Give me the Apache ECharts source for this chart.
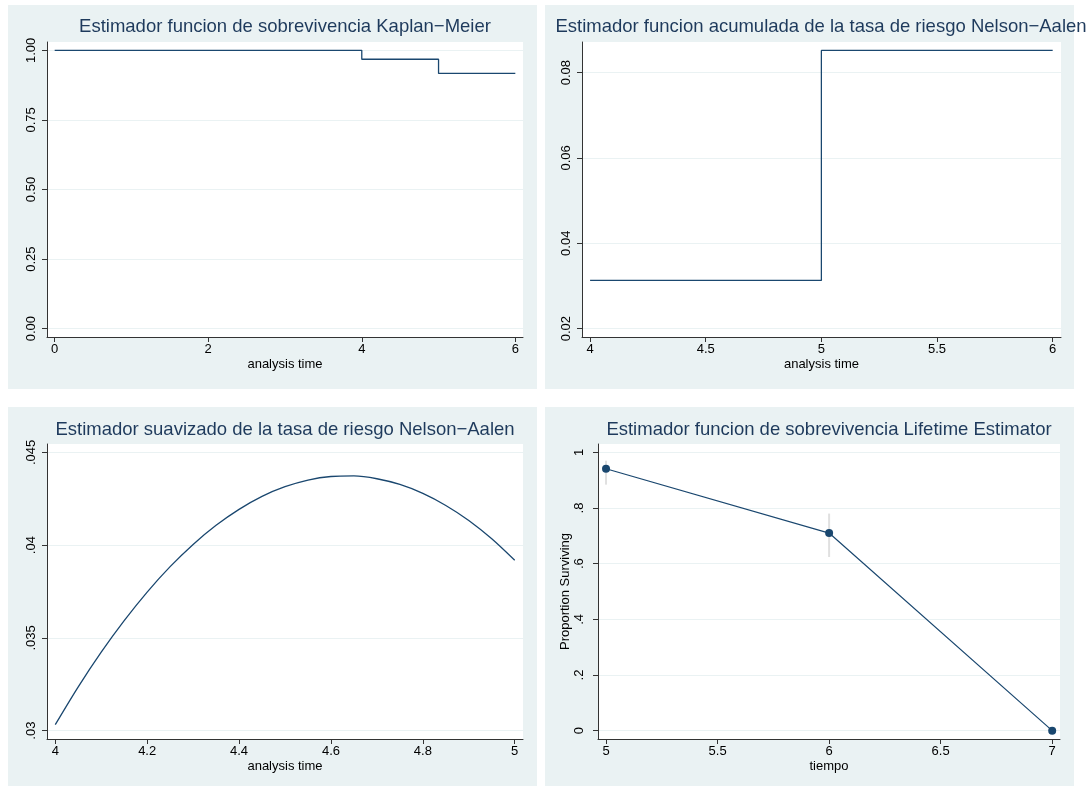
<!DOCTYPE html>
<html>
<head>
<meta charset="utf-8">
<script src="https://cdn.jsdelivr.net/npm/echarts@6/dist/echarts.min.js"></script>
<style>
html,body{margin:0;padding:0;background:#fff;}
#chart{width:1092px;height:787px;}
</style>
</head>
<body>
<div id="chart"></div>
<script>
// ---------- DATA ----------
// Panel 1: Kaplan-Meier survival
const kmTime = [0, 4, 5, 6];
const kmSurv = [1.0, 0.968, 0.917, 0.917];
const kmXTicks = [0, 2, 4, 6];
const kmYTicks = [0, 0.25, 0.5, 0.75, 1];
const kmYLabels = ['0.00', '0.25', '0.50', '0.75', '1.00'];

// Panel 2: Nelson-Aalen cumulative hazard
const naTime = [4, 5, 6];
const naCumHaz = [0.0313, 0.0852, 0.0852];
const naXTicks = [4, 4.5, 5, 5.5, 6];
const naYTicks = [0.02, 0.04, 0.06, 0.08];
const naYLabels = ['0.02', '0.04', '0.06', '0.08'];

// Panel 3: smoothed hazard
const smTime = [4.00, 4.05, 4.10, 4.15, 4.20, 4.25, 4.30, 4.35, 4.40, 4.45, 4.50,
                4.55, 4.60, 4.65, 4.70, 4.75, 4.80, 4.85, 4.90, 4.95, 5.00];
const smHaz  = [0.03032, 0.03236, 0.03423, 0.03593, 0.03747, 0.03884, 0.04004, 0.04107,
                0.04193, 0.04263, 0.04315, 0.04351, 0.04370, 0.04373, 0.04358, 0.04327,
                0.04279, 0.04214, 0.04133, 0.04034, 0.03918];
const smXTicks = [4, 4.2, 4.4, 4.6, 4.8, 5];
const smYTicks = [0.03, 0.035, 0.04, 0.045];
const smYLabels = ['.03', '.035', '.04', '.045'];

// Panel 4: life table survival
const ltTime  = [5, 6, 7];
const ltSurv  = [0.941, 0.710, 0.0];
const ltLower = [0.884, 0.624, 0.0];
const ltUpper = [0.970, 0.780, 0.0];
const ltXTicks = [5, 5.5, 6, 6.5, 7];
const ltYTicks = [0, 0.2, 0.4, 0.6, 0.8, 1];
const ltYLabels = ['0', '.2', '.4', '.6', '.8', '1'];

const titles = [
  'Estimador funcion de sobrevivencia Kaplan\u2212Meier',
  'Estimador funcion acumulada de la tasa de riesgo Nelson\u2212Aalen',
  'Estimador suavizado de la tasa de riesgo Nelson\u2212Aalen',
  'Estimador funcion de sobrevivencia Lifetime Estimator'
];

// ---------- STYLE ----------
const FONT = '"Liberation Sans", Arial, Helvetica, sans-serif';
const BG = '#eaf2f3';
const NAVY = '#1a476f';
const TITLE_COLOR = '#1e3a5c';
const AXIS_COLOR = '#333333';

const grids = [
  {left: 47,  top: 42,  width: 476, height: 295},
  {left: 582, top: 42,  width: 479, height: 295},
  {left: 47,  top: 444, width: 476, height: 295},
  {left: 598, top: 444, width: 462, height: 295}
];
const panels = [
  {x: 8,   y: 5,   w: 529, h: 384},
  {x: 545, y: 5,   w: 529, h: 384},
  {x: 8,   y: 407, w: 529, h: 379},
  {x: 545, y: 407, w: 529, h: 379}
];
const titlePos = [[285, 27], [821, 27], [285, 430], [829, 430]];

function lbl(ticks, labels) {
  return function (v) {
    for (let i = 0; i < ticks.length; i++) {
      if (Math.abs(ticks[i] - v) < 1e-9) return labels ? labels[i] : String(ticks[i]);
    }
    return '';
  };
}

function xAxis(idx, min, max, ticks, name) {
  return {
    type: 'value', gridIndex: idx, min: min, max: max,
    name: name, nameLocation: 'middle', nameGap: 21,
    nameTextStyle: {fontFamily: FONT, fontSize: 13, color: '#000'},
    axisLine: {show: true, onZero: false, lineStyle: {color: AXIS_COLOR, width: 1}},
    axisTick: {show: true, length: 5, customValues: ticks, lineStyle: {color: AXIS_COLOR}},
    axisLabel: {customValues: ticks, formatter: lbl(ticks), margin: 6,
                fontFamily: FONT, fontSize: 13, color: '#000'},
    splitLine: {show: false}
  };
}
function yAxis(idx, min, max, ticks, labels, name, margin) {
  return {
    type: 'value', gridIndex: idx, min: min, max: max,
    name: name || '', nameLocation: 'middle', nameGap: 26,
    nameTextStyle: {fontFamily: FONT, fontSize: 13, color: '#000'},
    axisLine: {show: true, onZero: false, lineStyle: {color: AXIS_COLOR, width: 1}},
    axisTick: {show: true, length: 5, customValues: ticks, lineStyle: {color: AXIS_COLOR}},
    axisLabel: {customValues: ticks, formatter: lbl(ticks, labels), rotate: 90, margin: margin || 9,
                fontFamily: FONT, fontSize: 13, color: '#000'},
    splitLine: {show: true, lineStyle: {color: BG, width: 1}}
  };
}

const graphic = [];
panels.forEach(p => graphic.push({
  type: 'rect', z: -100, silent: true,
  shape: {x: p.x, y: p.y, width: p.w, height: p.h},
  style: {fill: BG}
}));
titles.forEach((t, i) => graphic.push({
  type: 'text', z: 100, silent: true,
  x: titlePos[i][0], y: titlePos[i][1],
  style: {text: t, fill: TITLE_COLOR, fontSize: 18.5, fontFamily: FONT,
          align: 'center', verticalAlign: 'middle', textAlign: 'center', textVerticalAlign: 'middle'}
}));

const option = {
  animation: false,
  backgroundColor: '#ffffff',
  graphic: graphic,
  grid: grids.map(g => Object.assign({show: true, backgroundColor: '#ffffff', borderWidth: 0, containLabel: false}, g)),
  xAxis: [
    xAxis(0, -0.1, 6.1, kmXTicks, 'analysis time'),
    xAxis(1, 3.965, 6.036, naXTicks, 'analysis time'),
    xAxis(2, 3.982, 5.018, smXTicks, 'analysis time'),
    xAxis(3, 4.964, 7.035, ltXTicks, 'tiempo')
  ],
  yAxis: [
    yAxis(0, -0.03, 1.03, kmYTicks, kmYLabels),
    yAxis(1, 0.01803, 0.08717, naYTicks, naYLabels),
    yAxis(2, 0.029547, 0.045453, smYTicks, smYLabels),
    yAxis(3, -0.03, 1.03, ltYTicks, ltYLabels, 'Proportion Surviving', 12)
  ],
  series: [
    {
      type: 'line', xAxisIndex: 0, yAxisIndex: 0, step: 'end', showSymbol: false,
      data: kmTime.map((t, i) => [t, kmSurv[i]]),
      lineStyle: {color: NAVY, width: 1.3}
    },
    {
      type: 'line', xAxisIndex: 1, yAxisIndex: 1, step: 'end', showSymbol: false,
      data: naTime.map((t, i) => [t, naCumHaz[i]]),
      lineStyle: {color: NAVY, width: 1.3}
    },
    {
      type: 'line', xAxisIndex: 2, yAxisIndex: 2, smooth: 0.3, showSymbol: false,
      data: smTime.map((t, i) => [t, smHaz[i]]),
      lineStyle: {color: NAVY, width: 1.3}
    },
    {
      type: 'custom', xAxisIndex: 3, yAxisIndex: 3, z: 1,
      data: ltTime.map((t, i) => [t, ltLower[i], ltUpper[i]]),
      renderItem: function (params, api) {
        const a = api.coord([api.value(0), api.value(1)]);
        const b = api.coord([api.value(0), api.value(2)]);
        return {type: 'line', shape: {x1: a[0], y1: a[1], x2: b[0], y2: b[1]},
                style: {stroke: '#e0e0e0', lineWidth: 2}};
      }
    },
    {
      type: 'line', xAxisIndex: 3, yAxisIndex: 3, z: 3,
      symbol: 'circle', symbolSize: 8, showSymbol: true,
      data: ltTime.map((t, i) => [t, ltSurv[i]]),
      itemStyle: {color: NAVY},
      lineStyle: {color: NAVY, width: 1.2}
    }
  ]
};

const chart = echarts.init(document.getElementById('chart'), null, {renderer: 'canvas'});
chart.setOption(option);
</script>
</body>
</html>
